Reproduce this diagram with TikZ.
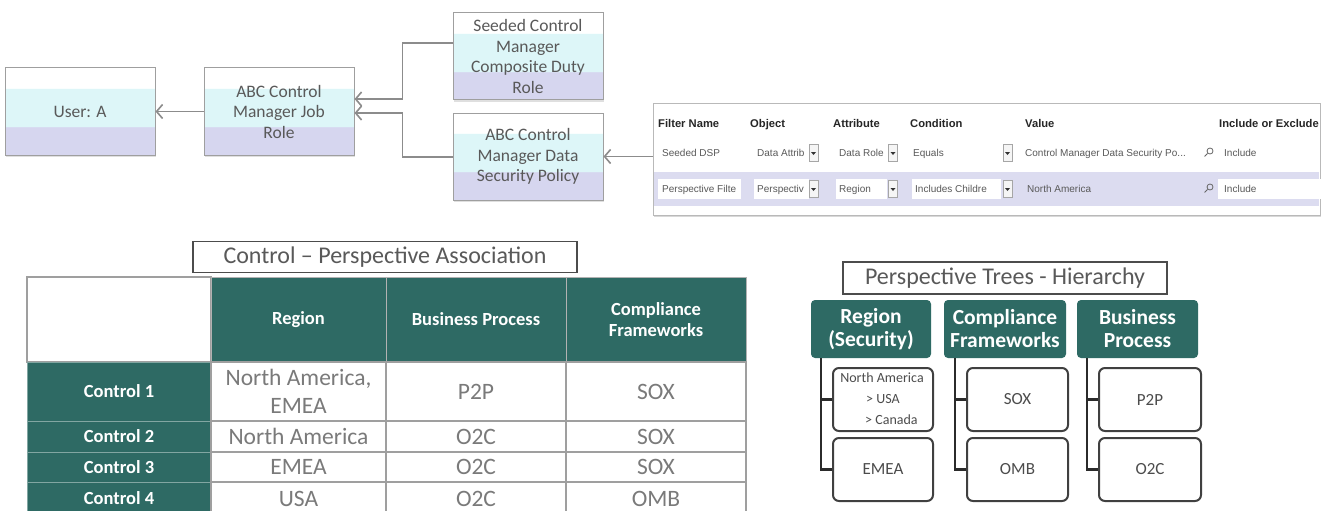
\documentclass[tikz,border=0pt]{standalone}
\usepackage{fontspec}
\setmainfont{Carlito}
\newfontfamily\pf{Liberation Sans}
\usetikzlibrary{arrows.meta,shadows,calc}
\definecolor{cyn}{HTML}{DDF6F8}
\definecolor{lav}{HTML}{D6D6EF}
\definecolor{txt}{HTML}{595959}
\definecolor{tealc}{HTML}{2E6A64}
\definecolor{lnk}{HTML}{8C8C8C}
\definecolor{pband}{HTML}{DCDCF0}
\definecolor{datatxt}{HTML}{7A7A7A}
\definecolor{treeln}{HTML}{2B2B2B}
\pgfdeclareverticalshading{topshade}{100bp}{color(0bp)=(lav); color(41bp)=(lav); color(41.5bp)=(cyn); color(63bp)=(cyn); color(63.5bp)=(white); color(100bp)=(white)}
\begin{document}
\begin{tikzpicture}[x=1pt,y=-1pt,
  topbox/.style={draw=gray!75, line width=1pt, shading=topshade, text=txt,
    font=\fontsize{17.5}{20.5}\selectfont, align=center, inner sep=0pt,
    minimum width=150pt, minimum height=87pt,
    drop shadow={shadow xshift=1pt, shadow yshift=-2pt, opacity=0.25}},
  arr/.style={draw=lnk, line width=1.6pt, -{Straight Barb[length=6pt,width=14pt]}},
  ph/.style={font=\pf\bfseries\fontsize{11.2}{13}\selectfont, text=black!85, anchor=base west, inner sep=0pt},
  pt/.style={font=\pf\fontsize{10}{12}\selectfont, text=black!65, anchor=base west, inner sep=0pt},
  field/.style={draw=white, fill=white, minimum height=19pt, inner sep=0pt},
  dd/.style={draw=gray!70, fill=gray!8, minimum width=9pt, minimum height=17pt, inner sep=0pt,
    path picture={\fill[black!80] ([xshift=-2.5pt,yshift=1pt]path picture bounding box.center) -- ++(5pt,0) -- ++(-2.5pt,-3pt) -- cycle;}},
  magn/.style={circle, draw=black!60, line width=0.8pt, minimum size=6pt, inner sep=0pt},
  hdcell/.style={draw=gray!60, line width=0.6pt, fill=tealc, text=white, inner sep=0pt,
    font=\bfseries\fontsize{18.5}{21}\selectfont, align=center},
  rlcell/.style={draw=tealc!60!white, line width=0.8pt, fill=tealc, text=white, inner sep=0pt,
    font=\bfseries\fontsize{18.5}{21}\selectfont, minimum width=184pt},
  dcell/.style={draw=gray!75, line width=1.1pt, fill=white, text=datatxt, inner sep=0pt,
    font=\fontsize{23.5}{28}\selectfont, align=center},
  ttl/.style={draw=black!70, line width=1.2pt, fill=white, text=txt, inner sep=0pt,
    font=\fontsize{24}{26}\selectfont},
  thead/.style={fill=tealc, rounded corners=4pt, text=white, inner sep=0pt,
    font=\bfseries\fontsize{21.5}{23}\selectfont, align=center, minimum height=58pt},
  tchild/.style={draw=treeln!90, line width=2pt, rounded corners=6pt, fill=white, inner sep=0pt,
    text=black!70, font=\fontsize{17}{20}\selectfont, minimum height=63pt},
  tln/.style={draw=treeln, line width=2.4pt}
]
\useasboundingbox[fill=white] (0,0) rectangle (1326,511);

% ---------- top role chain ----------
\node[topbox] (user) at (80,111.5) {User: A};
\node[topbox] (job) at (279,111.5) {ABC Control\\Manager Job\\Role};
\node[topbox] (seeded) at (528,56.5) {Seeded Control\\Manager\\Composite Duty\\Role};
\node[topbox] (dsp) at (528,156.5) {ABC Control\\Manager Data\\Security Policy};

\draw[arr] (job.west) -- (user.east);
\draw[arr] ([yshift=13.5pt]seeded.west) -- ++(-50,0) |- ([yshift=12.5pt]job.east);
\draw[arr] ([yshift=-0.5pt]dsp.west) -- ++(-50,0) |- ([yshift=-1.5pt]job.east);

% ---------- filter panel ----------
\node[draw=gray!55, fill=white, minimum width=667pt, minimum height=112pt, inner sep=0pt,
  drop shadow={shadow xshift=1pt, shadow yshift=-2pt, opacity=0.3}] (panel) at (986.5,159) {};
\draw[arr] (panel.west |- dsp.east) -- (dsp.east);
\fill[pband] (654,172) rectangle (1319,206);

\node[ph] (hfn) at (658,127) {Filter Name};
\node[ph] (hob) at (750,127) {Object};
\node[ph] (hat) at (833,127) {Attribute};
\node[ph] (hco) at (910,127) {Condition};
\node[ph] (hva) at (1025,127) {Value};
\node[ph] (hie) at (1219,127) {Include or Exclude};

% row 1
\node[pt] (r1a) at (662,156.5) {Seeded DSP};
\node[pt] (r1b) at (757,156.5) {Data Attrib};
\node[dd] (d1b) at (813.5,153) {};
\node[pt] (r1c) at (839,156.5) {Data Role};
\node[dd] (d1c) at (893,153) {};
\node[pt] (r1d) at (913,156.5) {Equals};
\node[dd] (d1d) at (1007.5,153) {};
\node[pt] (r1e) at (1025,156.5) {Control Manager Data Security Po...};
\node[magn] (m1) at (1210,151) {};
\draw[black!60, line width=1pt] (m1.south west) -- ++(-3pt,-3pt);
\node[pt] (r1f) at (1224,156.5) {Include};

% row 2
\node[field, minimum width=82pt] (f2a) at (699,189) {};
\node[pt] (r2a) at (662,192.5) {Perspective Filte};
\node[field, minimum width=54pt] (f2b) at (781,189) {};
\node[pt] (r2b) at (757,192.5) {Perspectiv};
\node[dd] (d2b) at (813.5,189) {};
\node[field, minimum width=50pt] (f2c) at (861,189) {};
\node[pt] (r2c) at (839,192.5) {Region};
\node[dd] (d2c) at (893,189) {};
\node[field, minimum width=88pt] (f2d) at (956,189) {};
\node[pt] (r2d) at (915,192.5) {Includes Childre};
\node[dd] (d2d) at (1007.5,189) {};
\node[pt] (r2e) at (1027,192.5) {North America};
\node[magn] (m2) at (1210,187) {};
\draw[black!60, line width=1pt] (m2.south west) -- ++(-3pt,-3pt);
\node[field, minimum width=102pt] (f2f) at (1269,189) {};
\node[pt] (r2f) at (1224,192.5) {Include};

% ---------- control - perspective table ----------
\node[ttl, minimum width=384pt, minimum height=31pt] (t1) at (385,257) {Control – Perspective Association};

\node[draw=gray!75, line width=1.1pt, fill=white, minimum width=184pt, minimum height=85pt, inner sep=0pt] (c00) at (119,319.5) {};
\node[hdcell, minimum width=175pt, minimum height=85pt] (c01) at (298.5,319.5) {Region};
\node[hdcell, minimum width=180pt, minimum height=85pt] (c02) at (476,319.5) {Business Process};
\node[hdcell, minimum width=180pt, minimum height=85pt] (c03) at (656,319.5) {Compliance\\Frameworks};

\node[rlcell, minimum height=59pt] (c10) at (119,391.5) {Control 1};
\node[dcell, minimum width=175pt, minimum height=59pt] (c11) at (298.5,391.5) {North America,\\EMEA};
\node[dcell, minimum width=180pt, minimum height=59pt] (c12) at (476,391.5) {P2P};
\node[dcell, minimum width=180pt, minimum height=59pt] (c13) at (656,391.5) {SOX};

\node[rlcell, minimum height=31pt] (c20) at (119,436.5) {Control 2};
\node[dcell, minimum width=175pt, minimum height=31pt] (c21) at (298.5,436.5) {North America};
\node[dcell, minimum width=180pt, minimum height=31pt] (c22) at (476,436.5) {O2C};
\node[dcell, minimum width=180pt, minimum height=31pt] (c23) at (656,436.5) {SOX};

\node[rlcell, minimum height=30pt] (c30) at (119,467) {Control 3};
\node[dcell, minimum width=175pt, minimum height=30pt] (c31) at (298.5,467) {EMEA};
\node[dcell, minimum width=180pt, minimum height=30pt] (c32) at (476,467) {O2C};
\node[dcell, minimum width=180pt, minimum height=30pt] (c33) at (656,467) {SOX};

\node[rlcell, minimum height=33pt] (c40) at (119,498.5) {Control 4};
\node[dcell, minimum width=175pt, minimum height=33pt] (c41) at (298.5,498.5) {USA};
\node[dcell, minimum width=180pt, minimum height=33pt] (c42) at (476,498.5) {O2C};
\node[dcell, minimum width=180pt, minimum height=33pt] (c43) at (656,498.5) {OMB};

% ---------- perspective trees ----------
\node[ttl, minimum width=324pt, minimum height=32pt] (t2) at (1005,278) {Perspective Trees - Hierarchy};

\node[thead, minimum width=120pt] (rh) at (871,329) {Region\\(Security)};
\node[thead, minimum width=122pt] (ch) at (1005,329) {Compliance\\Frameworks};
\node[thead, minimum width=121pt] (bh) at (1137.5,329) {Business\\Process};

\node[tchild, minimum width=100pt] (na) at (883,399.5) {};
\node[font=\fontsize{14}{16}\selectfont, text=black!70, inner sep=0pt] (nat) at (882,378) {North America};
\node[font=\fontsize{14}{16}\selectfont, text=black!70, inner sep=0pt, anchor=west] (usat) at (866,399) {> USA};
\node[font=\fontsize{14}{16}\selectfont, text=black!70, inner sep=0pt, anchor=west] (cant) at (865,420) {> Canada};
\node[tchild, minimum width=100pt] (emea) at (883,469.5) {EMEA};
\node[tchild, minimum width=101pt] (sox) at (1017.5,399.5) {SOX};
\node[tchild, minimum width=101pt] (omb) at (1017.5,469.5) {OMB};
\node[tchild, minimum width=102pt] (p2p) at (1150,399.5) {P2P};
\node[tchild, minimum width=102pt] (o2c) at (1150,469.5) {O2C};

\coordinate (rv) at ([xshift=-50pt]rh.south);
\coordinate (cv) at ([xshift=-50pt]ch.south);
\coordinate (bv) at ([xshift=-50.5pt]bh.south);
\draw[tln] (rv) |- (emea.west);
\draw[tln] (na.west) -- (na.west -| rv);
\draw[tln] (cv) |- (omb.west);
\draw[tln] (sox.west) -- (sox.west -| cv);
\draw[tln] (bv) |- (o2c.west);
\draw[tln] (p2p.west) -- (p2p.west -| bv);
\end{tikzpicture}
\end{document}
